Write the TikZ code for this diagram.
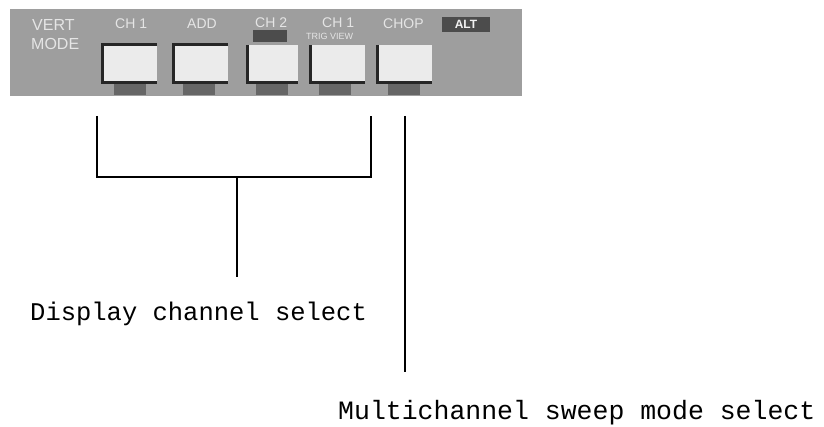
\documentclass[tikz,border=0pt]{standalone}
\usepackage{fontspec}
\newfontfamily\monofam{Liberation Mono}
\newfontfamily\panelfam{Liberation Sans}
\begin{document}
\begin{tikzpicture}[x=1pt,y=-1pt,
  panelbox/.style={draw=none,fill=black!38,minimum width=512pt,minimum height=87pt,inner sep=0pt},
  btn/.style={draw=none,fill=black!8,minimum width=54pt,minimum height=37pt,inner sep=0pt},
  btnedge/.style={draw=black!85,line width=3pt},
  smudge/.style={fill=black!60,draw=none,minimum width=32pt,minimum height=11pt,inner sep=0pt},
  ptext/.style={text=black!10,font=\panelfam\fontsize{14}{14}\selectfont,inner sep=0pt},
  darkbox/.style={fill=black!70,draw=none,inner sep=0pt},
  leader/.style={draw=black,line width=1.6pt},
  caption/.style={font=\monofam\fontsize{25.5}{26}\selectfont,inner sep=0pt,anchor=base west}]
\useasboundingbox (0,0) rectangle (824,427);
% panel
\node[panelbox] (panel) at (266,52.5) {};
\node[ptext,font=\panelfam\fontsize{16}{16}\selectfont,anchor=west] (vert) at (32,25) {VERT};
\node[ptext,font=\panelfam\fontsize{16}{16}\selectfont,anchor=west] (mode) at (31,44) {MODE};
\node[ptext,anchor=west] (ch1) at (115,24) {CH 1};
\node[ptext,anchor=west] (add) at (187,24) {ADD};
\node[ptext,anchor=west] (ch2) at (255,23) {CH 2};
\node[darkbox,minimum width=34pt,minimum height=12pt] (inv) at (270,36) {};
\node[ptext,anchor=west] (ch1b) at (322,23) {CH 1};
\node[ptext,font=\panelfam\fontsize{9}{9}\selectfont,anchor=west] (trig) at (306,36) {TRIG VIEW};
\node[ptext,anchor=west] (chop) at (383,24) {CHOP};
\node[darkbox,minimum width=48pt,minimum height=15pt,text=black!5,font=\panelfam\fontsize{12}{12}\selectfont\bfseries] (alt) at (466,24.5) {ALT};
% buttons
\node[btn] (b1) at (130,63.5) {};
\node[btn] (b2) at (201,63.5) {};
\node[btn,minimum width=50pt] (b3) at (273,63.5) {};
\node[btn] (b4) at (337.5,63.5) {};
\node[btn] (b5) at (404.5,63.5) {};
\draw[btnedge] (b1.north east) -- (b1.north west) -- (b1.south west) -- (b1.south east);
\draw[btnedge] (b2.north east) -- (b2.north west) -- (b2.south west) -- (b2.south east);
\draw[btnedge] (b3.north west) -- (b3.south west) -- (b3.south east);
\draw[btnedge] (b4.north west) -- (b4.south west) -- (b4.south east);
\draw[btnedge] (b5.north west) -- (b5.south west) -- (b5.south east);
\node[smudge] (s1) at (130,90) {};
\node[smudge] (s2) at (199,90) {};
\node[smudge] (s3) at (272,90) {};
\node[smudge] (s4) at (335,90) {};
\node[smudge] (s5) at (404,90) {};
% leaders
\coordinate (bl) at (97,116);
\coordinate (br) at (371,116);
\coordinate (j) at (237,177);
\coordinate (stemend) at (237,277);
\coordinate (m1) at (405,116);
\coordinate (m2) at (405,372);
\draw[leader] (bl) -- (bl |- j) -- (br |- j) -- (br);
\draw[leader] (j) -- (stemend);
\draw[leader] (m1) -- (m2);
% captions
\node[caption] (disp) at (30,320) {Display channel select};
\node[caption,font=\monofam\fontsize{26.5}{27}\selectfont] (multi) at (338,419) {Multichannel sweep mode select};
\end{tikzpicture}
\end{document}
